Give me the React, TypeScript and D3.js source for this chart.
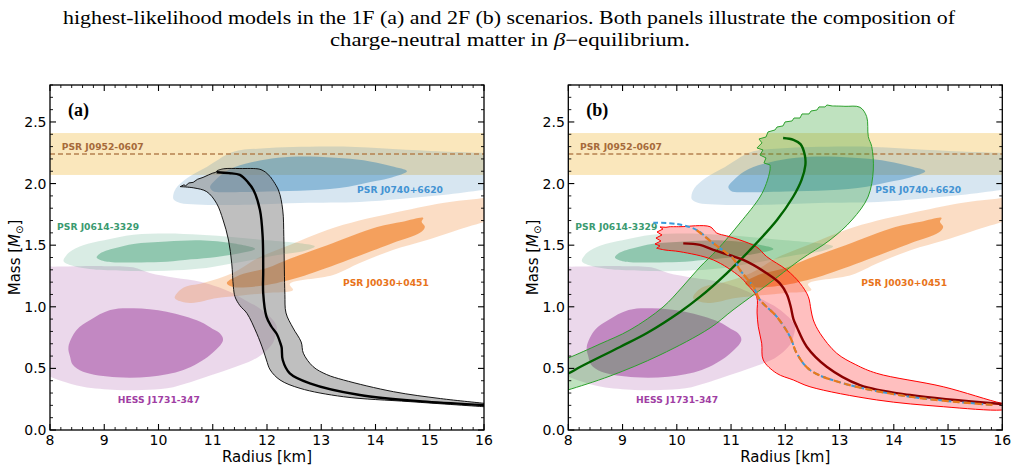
import React from 'react';
import * as d3 from 'd3';

type Pt = [number, number];

// axes
const radiusTicks = [8, 9, 10, 11, 12, 13, 14, 15, 16];
const massTicks = [0, 0.5, 1.0, 1.5, 2.0, 2.5];

// PSR J0952-0607 mass band [low, median, high]
const j0952Band = [2.07, 2.24, 2.41];

// observational contours (R [km], M [Msun])
const j0740Outer: Pt[] = [[10.27, 1.9], [10.32, 1.96], [10.53, 2.045], [10.89, 2.135], [11.37, 2.256], [11.9, 2.285], [12.48, 2.297], [13.4, 2.3], [14.32, 2.28], [15.24, 2.26], [16.0, 2.248], [16.4, 2.24], [16.4, 1.97], [15.98, 1.948], [15.24, 1.907], [14.45, 1.875], [13.71, 1.851], [12.61, 1.843], [11.37, 1.826], [10.7, 1.83], [10.4, 1.843], [10.28, 1.87]];
const j0740Inner: Pt[] = [[10.95, 1.975], [11.05, 2.03], [11.25, 2.1], [11.6, 2.16], [12.2, 2.21], [12.8, 2.22], [13.4, 2.205], [13.9, 2.18], [14.3, 2.14], [14.58, 2.1], [14.3, 2.05], [14.0, 2.02], [13.5, 1.975], [12.8, 1.945], [12.0, 1.935], [11.3, 1.93], [11.0, 1.94]];
const j0614Outer: Pt[] = [[8.25, 1.37], [8.35, 1.44], [8.61, 1.5], [9.0, 1.54], [9.54, 1.585], [10.15, 1.595], [10.77, 1.585], [11.4, 1.565], [12.0, 1.54], [12.61, 1.515], [12.88, 1.49], [12.7, 1.455], [12.2, 1.42], [11.6, 1.37], [11.2, 1.34], [10.77, 1.31], [10.15, 1.292], [9.5, 1.29], [8.92, 1.3], [8.45, 1.33]];
const j0614Inner: Pt[] = [[8.86, 1.4], [8.95, 1.44], [9.23, 1.48], [9.54, 1.51], [10.15, 1.53], [10.77, 1.54], [11.37, 1.515], [11.78, 1.47], [11.5, 1.435], [11.07, 1.405], [10.6, 1.385], [10.15, 1.365], [9.54, 1.36], [9.0, 1.37]];
const j0030Outer: Pt[] = [[10.3, 1.071], [10.45, 1.153], [10.82, 1.193], [11.37, 1.274], [11.87, 1.404], [12.42, 1.502], [13.11, 1.623], [13.7, 1.7], [14.32, 1.761], [15.24, 1.843], [15.98, 1.883], [16.4, 1.92], [16.4, 1.76], [16.0, 1.688], [15.69, 1.648], [14.95, 1.542], [14.32, 1.461], [13.71, 1.356], [13.22, 1.258], [12.42, 1.185], [12.48, 1.136], [12.0, 1.112], [11.5, 1.09], [11.08, 1.071], [10.58, 1.031]];
const j0030Inner: Pt[] = [[11.26, 1.193], [11.5, 1.258], [12.0, 1.315], [12.42, 1.39], [13.11, 1.5], [14.03, 1.648], [14.5, 1.69], [14.88, 1.721], [14.85, 1.69], [14.91, 1.648], [14.82, 1.6], [14.32, 1.518], [13.4, 1.364], [12.61, 1.242], [12.33, 1.209], [12.0, 1.177], [11.37, 1.161]];
const hessOuter: Pt[] = [[7.7, 1.33], [8.0, 1.326], [9.0, 1.33], [9.53, 1.32], [9.84, 1.274], [10.3, 1.235], [10.77, 1.204], [11.1, 1.16], [11.37, 1.11], [11.65, 1.04], [11.82, 1.0], [12.0, 0.94], [12.11, 0.893], [12.18, 0.838], [12.15, 0.76], [12.11, 0.706], [11.95, 0.63], [11.74, 0.568], [11.4, 0.51], [11.08, 0.46], [10.6, 0.39], [10.16, 0.338], [9.7, 0.325], [9.23, 0.325], [8.61, 0.351], [8.2, 0.4], [8.0, 0.433], [7.7, 0.46]];
const hessInner: Pt[] = [[8.37, 0.595], [8.34, 0.676], [8.49, 0.812], [8.74, 0.893], [9.11, 0.974], [9.54, 0.988], [10.15, 0.96], [10.77, 0.879], [11.0, 0.82], [11.13, 0.785], [11.19, 0.731], [10.95, 0.609], [10.46, 0.487], [9.84, 0.433], [9.23, 0.428], [8.61, 0.473], [8.42, 0.53]];

// label anchors [R, M]
const labelNames = ['PSR J0952-0607', 'PSR J0740+6620', 'PSR J0614-3329', 'PSR J0030+0451', 'HESS J1731-347'];
const labelPos: Pt[] = [[8.216, 2.273], [13.66, 1.92], [8.13, 1.623], [13.4, 1.169], [9.25, 0.219]];
const labelColors = ['#a66a3a', '#4393d3', '#3a9a70', '#e8731a', '#a03ea3'];

// panel (a): 1F band
const aTop: Pt[] = [[10.4, 1.975], [10.47, 1.99], [10.5, 1.982], [10.56, 2.005], [10.64, 2.01], [10.72, 2.035], [10.82, 2.05], [10.92, 2.07], [11.0, 2.085], [11.05, 2.09], [11.08, 2.105]];
const aTopFlat: Pt[] = [[11.08, 2.105], [11.2, 2.12], [11.5, 2.122], [11.87, 2.116], [11.98, 2.09]];
const aRight: Pt[] = [[12.06, 2.056], [12.21, 1.948], [12.29, 1.786], [12.31, 1.569], [12.32, 1.299], [12.33, 1.1], [12.35, 0.95], [12.48, 0.828], [12.63, 0.714], [12.67, 0.623], [12.85, 0.514], [13.1, 0.45], [13.41, 0.406], [14.33, 0.311], [15.2, 0.255], [16.0, 0.217]];
const aLeft: Pt[] = [[10.4, 1.975], [10.65, 1.965], [10.89, 1.934], [11.07, 1.84], [11.19, 1.705], [11.29, 1.542], [11.35, 1.353], [11.38, 1.163], [11.41, 1.082], [11.5, 1.01], [11.63, 0.947], [11.81, 0.785], [11.93, 0.649], [11.99, 0.568], [12.06, 0.487], [12.24, 0.406], [12.61, 0.338], [13.41, 0.27], [14.64, 0.23], [16.0, 0.189]];
const aCentral: Pt[] = [[11.07, 2.092], [11.3, 2.085], [11.5, 2.07], [11.65, 2.01], [11.75, 1.948], [11.87, 1.786], [11.92, 1.569], [11.93, 1.299], [11.93, 1.11], [11.99, 0.92], [12.08, 0.84], [12.18, 0.779], [12.25, 0.7], [12.27, 0.67], [12.29, 0.568], [12.42, 0.46], [12.79, 0.379], [13.71, 0.284], [14.94, 0.23], [16.0, 0.203]];

// panel (b): green (2F) band
const bGreenUpper: Pt[] = [[7.8, 0.55], [8.0, 0.584], [8.584, 0.698], [9.137, 0.812], [9.746, 0.998], [10.1, 1.16], [10.427, 1.323], [10.741, 1.461], [11.164, 1.68], [11.533, 1.891], [11.65, 2.0], [11.718, 2.11], [11.72, 2.151]];
const bGreenJag: Pt[] = [[11.72, 2.151], [11.607, 2.167], [11.644, 2.208], [11.533, 2.232], [11.589, 2.273], [11.478, 2.289], [11.57, 2.33], [11.515, 2.362], [11.644, 2.378], [11.681, 2.419], [11.81, 2.435], [11.847, 2.459], [11.958, 2.468], [11.995, 2.5], [12.124, 2.508], [12.161, 2.532], [12.271, 2.532], [12.308, 2.565], [12.437, 2.565], [12.474, 2.589], [12.584, 2.597], [12.621, 2.622], [12.731, 2.622], [12.768, 2.638], [12.861, 2.63]];
const bGreenLower: Pt[] = [[12.861, 2.63], [13.1, 2.627], [13.377, 2.619], [13.5, 2.543], [13.53, 2.381], [13.593, 2.3], [13.622, 2.11], [13.524, 1.891], [13.229, 1.705], [12.824, 1.542], [12.271, 1.38], [11.663, 1.177], [11.036, 0.974], [10.612, 0.828], [9.69, 0.609], [8.769, 0.438], [7.994, 0.325], [7.8, 0.3]];
const bGreenCentral: Pt[] = [[7.8, 0.44], [8.0, 0.46], [8.216, 0.511], [8.953, 0.674], [9.451, 0.787], [10.059, 0.958], [10.427, 1.08], [10.925, 1.274], [11.349, 1.461], [11.847, 1.705], [12.142, 1.891], [12.3, 2.03], [12.37, 2.15], [12.36, 2.23], [12.28, 2.32], [12.15, 2.355], [11.96, 2.37]];

// panel (b): red (1F) band
const bRedJag: Pt[] = [[9.629, 1.475], [9.69, 1.494], [9.598, 1.51], [9.708, 1.534], [9.616, 1.558], [9.727, 1.583], [9.635, 1.607], [9.745, 1.631], [9.69, 1.648], [9.8, 1.645], [9.875, 1.65]];
const bRedTop: Pt[] = [[9.875, 1.65], [10.059, 1.65], [10.612, 1.65], [10.735, 1.599], [10.92, 1.575], [11.164, 1.542], [11.473, 1.485], [11.657, 1.407], [12.026, 1.299], [12.271, 1.191], [12.424, 1.082], [12.474, 0.974], [12.516, 0.893], [12.64, 0.785], [12.947, 0.623], [13.3, 0.53], [13.685, 0.46], [14.912, 0.351], [15.989, 0.217], [16.2, 0.205]];
const bRedBottom: Pt[] = [[16.2, 0.18], [15.989, 0.162], [14.912, 0.189], [13.685, 0.244], [12.455, 0.351], [12.148, 0.406], [11.841, 0.46], [11.594, 0.568], [11.565, 0.704], [11.502, 0.838], [11.48, 0.95], [11.473, 1.082], [11.3, 1.18], [11.164, 1.244], [10.673, 1.38], [10.059, 1.447], [9.782, 1.461], [9.629, 1.475]];
const bRedCentral: Pt[] = [[10.119, 1.515], [10.427, 1.502], [10.673, 1.461], [11.226, 1.38], [11.657, 1.272], [11.9, 1.19], [12.03, 1.1], [12.1, 1.0], [12.15, 0.9], [12.21, 0.838], [12.395, 0.676], [12.763, 0.514], [13.377, 0.365], [14.299, 0.284], [15.989, 0.211]];
const bDashed: Pt[] = [[9.567, 1.683], [9.998, 1.672], [10.367, 1.623], [10.673, 1.515], [11.041, 1.39], [11.164, 1.299], [11.41, 1.163], [11.533, 1.055], [11.841, 0.92], [12.087, 0.757], [12.21, 0.623], [12.455, 0.487], [13.069, 0.379], [14.299, 0.27], [15.834, 0.203]];

const TOP = 85;
const BOTTOM = 430;
const PW = 434;
const axisFont = 'DejaVu Sans, sans-serif';

type Scale = d3.ScaleLinear<number, number>;
type Seg = { pts: Pt[]; smooth: boolean };

function joinPath(segs: Seg[], x: Scale, y: Scale, close: boolean) {
  let d = '';
  segs.forEach((s, i) => {
    const gen = d3.line<Pt>().x(p => x(p[0])).y(p => y(p[1]))
      .curve(s.smooth ? d3.curveCatmullRom.alpha(0.5) : d3.curveLinear);
    const part = gen(s.pts) || '';
    d += i === 0 ? part : 'L' + part.slice(1);
  });
  return close ? d + 'Z' : d;
}

function blob(pts: Pt[], x: Scale, y: Scale) {
  return d3.line<Pt>().x(p => x(p[0])).y(p => y(p[1])).curve(d3.curveCatmullRomClosed.alpha(0.5))(pts) || '';
}

function Panel({ left, tag, id, draw }: { left: number; tag: string; id: string; draw: (x: Scale, y: Scale) => React.ReactNode }) {
  const x = d3.scaleLinear().domain([8, 16]).range([left, left + PW]);
  const y = d3.scaleLinear().domain([0, 2.8]).range([BOTTOM, TOP]);
  const minorX = d3.range(8, 16.001, 0.2).filter(v => Math.abs(v - Math.round(v)) > 0.01);
  const minorY = d3.range(0, 2.801, 0.1).filter(v => Math.abs(v * 2 - Math.round(v * 2)) > 0.01);

  const contours: [Pt[], Pt[], string, number, number][] = [
    [hessOuter, hessInner, '#912891', 0.18, 0.45],
    [j0030Outer, j0030Inner, '#f07818', 0.25, 0.6],
    [j0614Outer, j0614Inner, '#2a9467', 0.18, 0.42],
    [j0740Outer, j0740Inner, '#1f77b4', 0.18, 0.4],
  ];

  return (
    <g>
      <defs>
        <clipPath id={id}>
          <rect x={left} y={TOP} width={PW} height={BOTTOM - TOP} />
        </clipPath>
      </defs>
      <g clipPath={`url(#${id})`}>
        <rect x={left} y={y(j0952Band[2])} width={PW} height={y(j0952Band[0]) - y(j0952Band[2])} fill="#f2c14e" opacity={0.38} />
        {contours.map(([o, inn, c, a1, a2], i) => (
          <g key={i}>
            <path d={blob(o, x, y)} fill={c} opacity={a1} />
            <path d={blob(inn, x, y)} fill={c} opacity={a2} />
          </g>
        ))}
        <line x1={left} x2={left + PW} y1={y(j0952Band[1])} y2={y(j0952Band[1])} stroke="#b5814f" strokeWidth={1.3} strokeDasharray="5 3" />
        {labelNames.map((n, i) => (
          <text key={n} x={x(labelPos[i][0])} y={y(labelPos[i][1])} fill={labelColors[i]} fontFamily={axisFont} fontWeight="bold" fontSize={9.2}>{n}</text>
        ))}
        {draw(x, y)}
      </g>
      <text x={left + 18} y={116} fontFamily="Liberation Serif, serif" fontWeight="bold" fontSize={18}>{tag}</text>
      {/* frame + ticks */}
      <rect x={left} y={TOP} width={PW} height={BOTTOM - TOP} fill="none" stroke="#000" strokeWidth={1.3} />
      {radiusTicks.map(v => (
        <g key={'mx' + v}>
          <line x1={x(v)} x2={x(v)} y1={BOTTOM} y2={BOTTOM - 6} stroke="#000" strokeWidth={1.1} />
          <line x1={x(v)} x2={x(v)} y1={TOP} y2={TOP + 6} stroke="#000" strokeWidth={1.1} />
          <text x={x(v)} y={BOTTOM + 15} textAnchor="middle" fontFamily={axisFont} fontSize={14}>{v}</text>
        </g>
      ))}
      {minorX.map(v => (
        <g key={'nx' + v}>
          <line x1={x(v)} x2={x(v)} y1={BOTTOM} y2={BOTTOM - 3} stroke="#000" strokeWidth={0.9} />
          <line x1={x(v)} x2={x(v)} y1={TOP} y2={TOP + 3} stroke="#000" strokeWidth={0.9} />
        </g>
      ))}
      {massTicks.map(v => (
        <g key={'my' + v}>
          <line x1={left} x2={left + 6} y1={y(v)} y2={y(v)} stroke="#000" strokeWidth={1.1} />
          <line x1={left + PW} x2={left + PW - 6} y1={y(v)} y2={y(v)} stroke="#000" strokeWidth={1.1} />
          <text x={left - 3.5} y={y(v) + 5} textAnchor="end" fontFamily={axisFont} fontSize={14}>{v.toFixed(1)}</text>
        </g>
      ))}
      {minorY.map(v => (
        <g key={'ny' + v}>
          <line x1={left} x2={left + 3} y1={y(v)} y2={y(v)} stroke="#000" strokeWidth={0.9} />
          <line x1={left + PW} x2={left + PW - 3} y1={y(v)} y2={y(v)} stroke="#000" strokeWidth={0.9} />
        </g>
      ))}
      <text x={left + PW / 2} y={BOTTOM + 32} textAnchor="middle" fontFamily={axisFont} fontSize={15}>Radius [km]</text>
      <text transform={`translate(${left - 30},${(TOP + BOTTOM) / 2}) rotate(-90)`} textAnchor="middle" fontFamily={axisFont} fontSize={15}>
        Mass [<tspan fontStyle="italic">M</tspan><tspan fontSize={10} dy={3}>⊙</tspan><tspan dy={-3}>]</tspan>
      </text>
    </g>
  );
}

const drawA = (x: Scale, y: Scale) => {
  const band = joinPath([
    { pts: aTop, smooth: false },
    { pts: aTopFlat, smooth: true },
    { pts: aRight, smooth: true },
    { pts: [...aLeft].reverse(), smooth: true },
  ], x, y, true);
  return (
    <g>
      <path d={band} fill="#7f7f7f" fillOpacity={0.5} stroke="#000" strokeWidth={0.9} />
      <path d={joinPath([{ pts: aCentral, smooth: true }], x, y, false)} fill="none" stroke="#000" strokeWidth={2.4} />
    </g>
  );
};

const drawB = (x: Scale, y: Scale) => {
  const green = joinPath([
    { pts: bGreenUpper, smooth: true },
    { pts: bGreenJag, smooth: false },
    { pts: bGreenLower, smooth: true },
  ], x, y, true);
  const red = joinPath([
    { pts: bRedJag, smooth: false },
    { pts: bRedTop, smooth: true },
    { pts: bRedBottom, smooth: true },
  ], x, y, true);
  return (
    <g>
      <path d={green} fill="#2ca02c" fillOpacity={0.3} stroke="none" />
      <path d={red} fill="#ff0000" fillOpacity={0.25} stroke="none" />
      <path d={green} fill="none" stroke="#2ca02c" strokeWidth={1} />
      <path d={red} fill="none" stroke="#ff0000" strokeWidth={1} />
      <path d={joinPath([{ pts: bGreenCentral, smooth: true }], x, y, false)} fill="none" stroke="#006400" strokeWidth={2.4} />
      <path d={joinPath([{ pts: bRedCentral, smooth: true }], x, y, false)} fill="none" stroke="#8b0000" strokeWidth={2.4} />
      <path d={joinPath([{ pts: bDashed, smooth: true }], x, y, false)} fill="none" stroke="#3a9ad9" strokeWidth={2} strokeDasharray="5 3" />
      <path d={joinPath([{ pts: bDashed.slice(2), smooth: true }], x, y, false)} fill="none" stroke="#e8791c" strokeWidth={2.2} strokeDasharray="7 4" />
    </g>
  );
};

export default function App() {
  return (
    <svg width={1017} height={471} style={{ position: 'absolute', left: 0, top: 0, background: '#fff' }}>
      <rect width={1017} height={471} fill="#fff" />
      <text x={509} y={24} textAnchor="middle" fontFamily="Liberation Serif, serif" fontSize={18} textLength={892} lengthAdjust="spacingAndGlyphs">
        highest-likelihood models in the 1F (a) and 2F (b) scenarios. Both panels illustrate the composition of
      </text>
      <text x={510} y={46} textAnchor="middle" fontFamily="Liberation Serif, serif" fontSize={18} textLength={360} lengthAdjust="spacingAndGlyphs">
        charge-neutral matter in <tspan fontStyle="italic">β</tspan>−equilibrium.
      </text>
      <Panel left={50} tag="(a)" id="clipA" draw={drawA} />
      <Panel left={568.3} tag="(b)" id="clipB" draw={drawB} />
    </svg>
  );
}
